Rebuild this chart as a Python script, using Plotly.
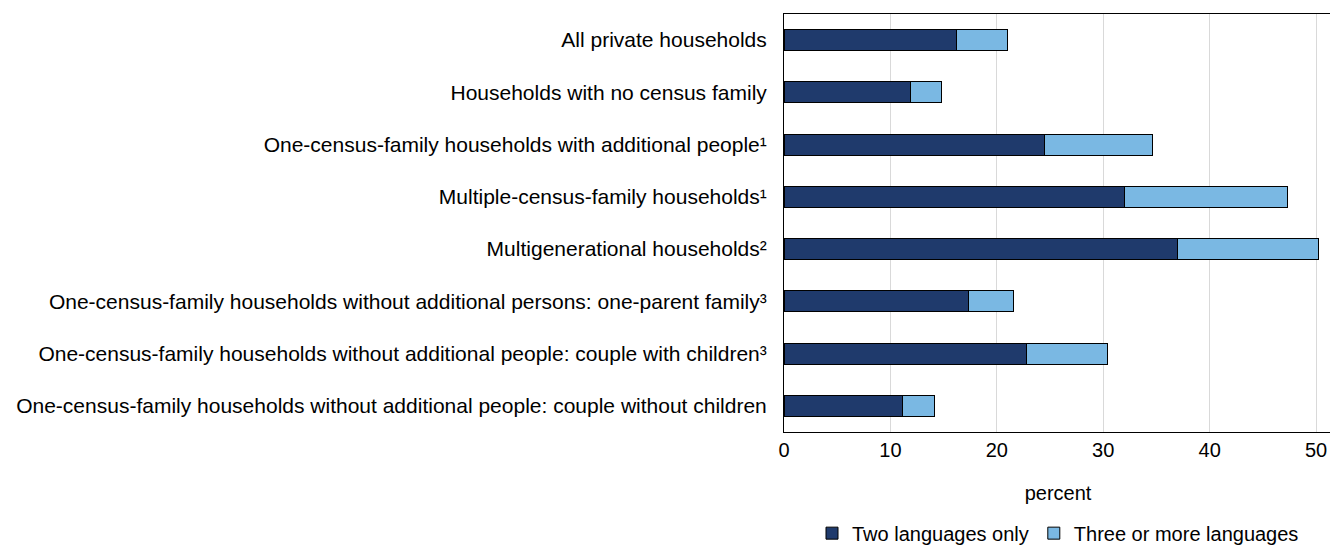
import plotly.graph_objects as go

categories = [
    "All private households",
    "Households with no census family",
    "One-census-family households with additional people¹",
    "Multiple-census-family households¹",
    "Multigenerational households²",
    "One-census-family households without additional persons: one-parent family³",
    "One-census-family households without additional people: couple with children³",
    "One-census-family households without additional people: couple without children",
]
two_languages = [16.2, 11.9, 24.5, 32.0, 37.0, 17.3, 22.8, 11.1]
three_or_more = [4.8, 2.9, 10.1, 15.3, 13.2, 4.3, 7.6, 3.0]
x_ticks = [0, 10, 20, 30, 40, 50]

fig = go.Figure()
fig.add_trace(go.Bar(
    y=categories, x=two_languages, orientation="h", name="Two languages only",
    marker=dict(color="#1f3a6c", line=dict(color="#000000", width=1)),
))
fig.add_trace(go.Bar(
    y=categories, x=three_or_more, orientation="h", name="Three or more languages",
    marker=dict(color="#7ab8e3", line=dict(color="#000000", width=1)),
))

font_family = "Liberation Sans, Arial, sans-serif"
fig.update_layout(
    barmode="stack",
    bargap=0.6,
    width=1330, height=540,
    margin=dict(l=776, r=6, t=6, b=116, autoexpand=False),
    plot_bgcolor="white", paper_bgcolor="white",
    font=dict(family=font_family, size=20, color="#000000"),
    showlegend=True,
    legend=dict(orientation="h", x=0.5, xanchor="center", y=-0.242, yanchor="middle",
                font=dict(size=20), traceorder="normal", itemwidth=30,
                tracegroupgap=0),
)
fig.update_xaxes(
    range=[0, 51.5], tickvals=x_ticks, showgrid=True, gridcolor="#d9d9d9", gridwidth=1,
    showline=True, linecolor="#000000", linewidth=1, mirror=True, zeroline=False,
    title=dict(text="percent", standoff=25, font=dict(size=20)), ticks="",
    tickfont=dict(size=20), automargin=False,
)
fig.update_yaxes(
    autorange="reversed", showline=True, linecolor="#000000", linewidth=1, mirror=True,
    ticks="", ticklabelstandoff=12, tickfont=dict(size=21), automargin=False,
)

fig.write_html("out.html")
